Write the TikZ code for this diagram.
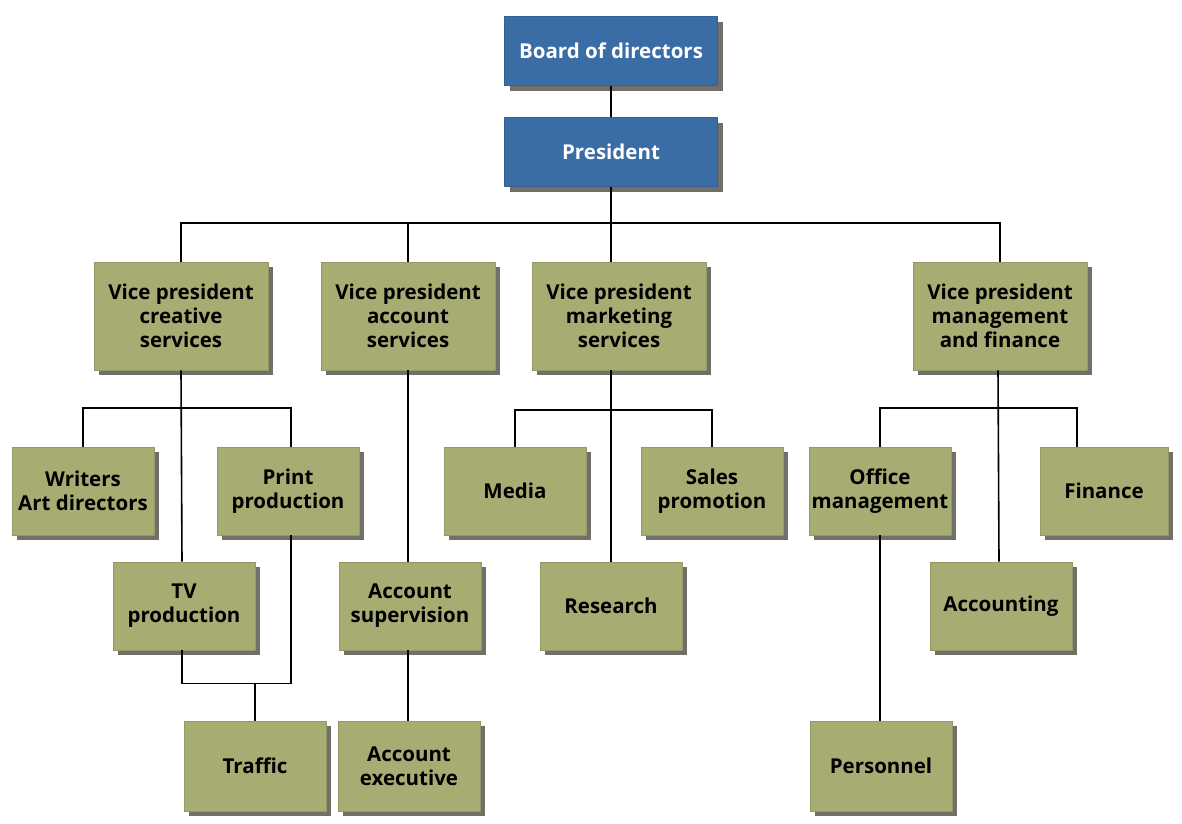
\documentclass[tikz,border=0pt]{standalone}
\usepackage{fontspec}
\setmainfont{Open Sans}
\usetikzlibrary{shadows}
\definecolor{boxgreen}{RGB}{167,173,114}
\definecolor{boxblue}{RGB}{58,109,166}
\definecolor{boxshade}{RGB}{112,112,104}
\tikzset{unit/.style={fill=boxgreen,draw=boxgreen!88!black,line width=0.6pt,
    align=center,inner sep=0pt,font=\fontsize{20.5}{24}\selectfont\bfseries,
    minimum width=142pt,minimum height=88pt,
    drop shadow={shadow xshift=5pt,shadow yshift=-5pt,fill=boxshade,opacity=1}}}
\tikzset{vp/.style={unit,minimum width=174pt,minimum height=108pt}}
\tikzset{top/.style={unit,fill=boxblue,draw=boxblue!88!black,text=white,
    minimum width=213pt,minimum height=69pt}}
\tikzset{link/.style={line width=1.6pt}}

\begin{document}
\begin{tikzpicture}[x=1pt,y=-1pt]
\fill[white] (0,0) rectangle (1182,823);
\useasboundingbox (0,0) rectangle (1182,823);

\node[top] (board) at (611,51) {Board of directors};
\node[top] (pres) at (611,152) {President};

\node[vp] (vpc) at (181,316) {Vice president\\creative\\services};
\node[vp] (vpa) at (408,316) {Vice president\\account\\services};
\node[vp] (vpm) at (619,316) {Vice president\\marketing\\services};
\node[vp] (vpf) at (1000,316) {Vice president\\management\\and finance};

\node[unit] (writ) at (83,491) {Writers\\Art directors};
\node[unit] (print) at (288,491) {Print\\production};
\node[unit] (media) at (515,491) {Media};
\node[unit] (sales) at (712,491) {Sales\\promotion};
\node[unit] (office) at (880,491) {Office\\management};
\node[unit,minimum width=128pt] (fin) at (1104,491) {Finance};

\node[unit] (tv) at (184,606) {TV\\production};
\node[unit] (super) at (410,606) {Account\\supervision};
\node[unit] (res) at (611,606) {Research};
\node[unit] (acct) at (1001,606) {Accounting};

\node[unit,minimum height=90pt] (traf) at (255,766) {Traffic};
\node[unit,minimum height=90pt] (exec) at (409,766) {Account\\executive};
\node[unit,minimum height=90pt] (pers) at (881,766) {Personnel};

\draw[link] (board) -- (pres);
\draw[link] (pres.south) -- ++(0,36) coordinate (bus);
\draw[link] (vpc.north) |- (bus) -| (vpf.north);
\draw[link] (vpa.north) -- (vpa.north |- bus);
\draw[link] (bus) -- ([xshift=-8pt]vpm.north);

\draw[link] (vpc.south) -- ([xshift=-2pt]tv.north);
\draw[link] (writ.north) -- ++(0,-39) -| ([xshift=3pt]print.north);
\draw[link] ([xshift=-2pt]tv.south) -- ++(0,33) coordinate (tbus) -| ([xshift=3pt]print.south);
\draw[link] (traf.north) -- (traf.north |- tbus);

\draw[link] (vpa.south) -- ([xshift=-2pt]super.north);
\draw[link] ([xshift=-2pt]super.south) -- ([xshift=-1pt]exec.north);

\draw[link] ([xshift=-8pt]vpm.south) -- (res.north);
\draw[link] (media.north) -- ++(0,-37) -| (sales.north);

\draw[link] ([xshift=-2pt]vpf.south) -- ([xshift=-2pt]acct.north);
\draw[link] (office.north) -- ++(0,-39) -| ([xshift=-27pt]fin.north);
\draw[link] (office.south) -- ([xshift=-1pt]pers.north);
\end{tikzpicture}
\end{document}
